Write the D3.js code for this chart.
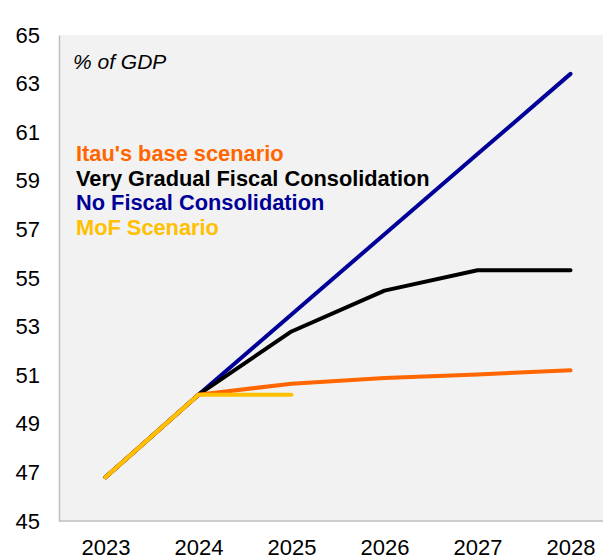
<!DOCTYPE html>
<html>
<head>
<meta charset="utf-8">
<script src="https://cdn.jsdelivr.net/npm/d3@7"></script>
<style>
  html, body { margin: 0; padding: 0; background: #fff; }
  svg { display: block; font-family: Arial, "Liberation Sans", Helvetica, sans-serif; }
</style>
</head>
<body>
<svg id="chart" width="603" height="556"></svg>
<script>
// Public debt projections, % of GDP
const years = ["2023", "2024", "2025", "2026", "2027", "2028"];
const yTicks = [45, 47, 49, 51, 53, 55, 57, 59, 61, 63, 65];

const itauBase     = [46.8, 50.2, 50.65, 50.88, 51.03, 51.2];
const veryGradual  = [46.8, 50.2, 52.8, 54.48, 55.32, 55.32];
const noFiscal     = [46.8, 50.2, 53.5, 56.8, 60.1, 63.4];
const mofScenario  = [46.8, 50.2, 50.2];

const seriesNames  = ["Itau's base scenario", "Very Gradual Fiscal Consolidation", "No Fiscal Consolidation", "MoF Scenario"];
const seriesColors = ["#FF6600", "#000000", "#000099", "#FFC000"];

const W = 603, H = 556;
const margin = { top: 35, right: -14, bottom: 35, left: 59 };
const plotBottom = H - margin.bottom;

const svg = d3.select("#chart");

const x = d3.scalePoint()
  .domain(years)
  .range([margin.left, W - margin.right])
  .padding(0.5);

const y = d3.scaleLinear()
  .domain([45, 65])
  .range([plotBottom, margin.top]);

// plot background
svg.append("rect")
  .attr("x", margin.left)
  .attr("y", margin.top)
  .attr("width", W - margin.left)
  .attr("height", plotBottom - margin.top)
  .attr("fill", "#F2F2F2");

// axes
const yAxis = svg.append("g")
  .attr("transform", `translate(${margin.left},0)`)
  .call(d3.axisLeft(y).tickValues(yTicks).tickSize(0).tickPadding(19));
yAxis.select(".domain").attr("stroke", "#BFBFBF").attr("stroke-width", 1.5);
yAxis.selectAll("text")
  .attr("font-size", 22)
  .attr("fill", "#000")
  .attr("font-family", "Arial, 'Liberation Sans', sans-serif");

const xAxis = svg.append("g")
  .attr("transform", `translate(0,${plotBottom})`)
  .call(d3.axisBottom(x).tickSize(0).tickPadding(18));
xAxis.select(".domain").attr("stroke", "#BFBFBF").attr("stroke-width", 1.5)
  .attr("d", `M${margin.left},0H${W}`);
xAxis.selectAll("text")
  .attr("font-size", 22)
  .attr("fill", "#000")
  .attr("font-family", "Arial, 'Liberation Sans', sans-serif");

// lines
const line = d3.line()
  .x((d, i) => x(years[i]))
  .y(d => y(d));

const seriesData = [noFiscal, veryGradual, itauBase, mofScenario];
const seriesDrawColors = ["#000099", "#000000", "#FF6600", "#FFC000"];
svg.append("g")
  .selectAll("path")
  .data(seriesData)
  .join("path")
  .attr("d", d => line(d))
  .attr("fill", "none")
  .attr("stroke", (d, i) => seriesDrawColors[i])
  .attr("stroke-width", 4)
  .attr("stroke-linejoin", "round")
  .attr("stroke-linecap", "round");

// unit note
svg.append("text")
  .attr("x", 73)
  .attr("y", 69)
  .attr("font-size", 21)
  .attr("font-style", "italic")
  .attr("fill", "#000")
  .text("% of GDP");

// legend as coloured labels
svg.append("g")
  .selectAll("text")
  .data(seriesNames)
  .join("text")
  .attr("x", 76)
  .attr("y", (d, i) => 161 + i * 24.5)
  .attr("font-size", 21.8)
  .attr("font-weight", "bold")
  .attr("fill", (d, i) => seriesColors[i])
  .text(d => d);
</script>
</body>
</html>
